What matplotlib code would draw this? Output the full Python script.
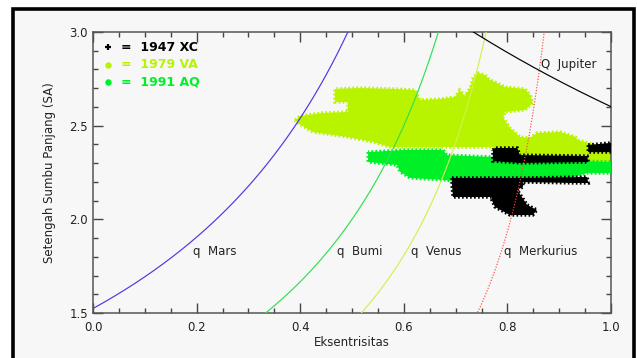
import numpy as np
import matplotlib
matplotlib.use("Agg")
import matplotlib.pyplot as plt
from matplotlib.patches import Rectangle

plt.rcParams.update({
    "font.family": "DejaVu Sans",
    "font.size": 8.5,
})

# perihelion (q) / aphelion (Q) distances of the planets [SA]
q_planets = {"Mars": 1.524, "Bumi": 1.0, "Venus": 0.723, "Merkurius": 0.387}
Q_jupiter = 5.203

# outline of the clone clouds (eksentrisitas, setengah sumbu panjang)
va_e = [0.390, 0.400, 0.444, 0.492, 0.492, 0.467, 0.467, 0.515, 0.583, 0.622,
        0.631, 0.670, 0.699, 0.708, 0.718, 0.728, 0.734, 0.743, 0.757, 0.766,
        0.780, 0.795, 0.834, 0.844, 0.849, 0.834, 0.795, 0.792, 0.805, 0.824,
        0.844, 0.857, 0.902, 0.931, 0.936, 0.956, 1.000, 1.000, 0.786, 0.772,
        0.683, 0.573, 0.541, 0.490, 0.425, 0.398]
va_a = [2.530, 2.552, 2.568, 2.573, 2.626, 2.626, 2.696, 2.701, 2.696, 2.690,
        2.637, 2.642, 2.653, 2.690, 2.658, 2.701, 2.754, 2.781, 2.770, 2.744,
        2.728, 2.706, 2.696, 2.664, 2.621, 2.584, 2.573, 2.541, 2.488, 2.440,
        2.434, 2.461, 2.466, 2.440, 2.424, 2.408, 2.359, 2.290, 2.317, 2.386,
        2.386, 2.386, 2.413, 2.440, 2.466, 2.509]

aq_e = [0.531, 0.531, 0.587, 0.593, 0.612, 0.680, 0.708, 0.824, 0.921, 0.954,
        1.000, 1.000, 0.900, 0.772, 0.683, 0.676, 0.600]
aq_a = [2.359, 2.306, 2.290, 2.253, 2.221, 2.210, 2.199, 2.199, 2.221, 2.247,
        2.247, 2.306, 2.315, 2.333, 2.343, 2.370, 2.370]

xc_lo_e = [0.693, 0.830, 0.954, 0.956, 0.927, 0.830, 0.830, 0.819, 0.838, 0.857,
           0.849, 0.805, 0.776, 0.770, 0.770, 0.695, 0.693]
xc_lo_a = [2.221, 2.221, 2.226, 2.194, 2.194, 2.199, 2.173, 2.157, 2.077, 2.050,
           2.023, 2.023, 2.066, 2.103, 2.119, 2.119, 2.183]
xc_up_e = [0.772, 0.776, 0.819, 0.824, 0.954, 0.956, 0.824, 0.772]
xc_up_a = [2.370, 2.381, 2.381, 2.343, 2.338, 2.306, 2.301, 2.311]
xc_tr_e = [0.956, 1.000, 1.000, 0.956]
xc_tr_a = [2.397, 2.408, 2.359, 2.359]

C_VA, C_AQ, C_XC = "#b8f400", "#00f028", "black"
BG = "#f7f7f7"

fig = plt.figure(figsize=(6.37, 3.58), dpi=100)
fig.patch.set_facecolor("white")
fig.patches.append(Rectangle((12.5 / 637, -0.1), 621.5 / 637, 1.1 - 8.5 / 358,
                             transform=fig.transFigure, facecolor=BG,
                             edgecolor="black", lw=2.6, zorder=-10))
ax = fig.add_axes([93 / 637, 45 / 358, 518 / 637, 281 / 358])
ax.set_facecolor(BG)


def cloud(ex, ay, col, z):
    # solid body plus a stippled rim so the edge looks speckled like the clones
    ax.fill(ex, ay, color=col, lw=0, zorder=z)
    ax.fill(ex, ay, facecolor="none", edgecolor=col, lw=2.4,
            ls=(0, (0.5, 0.7)), zorder=z)


cloud(va_e, va_a, C_VA, 2)
cloud(aq_e, aq_a, C_AQ, 3)
for ex, ay in ((xc_lo_e, xc_lo_a), (xc_up_e, xc_up_a), (xc_tr_e, xc_tr_a)):
    cloud(ex, ay, C_XC, 4)

# q and Q curves
e = np.linspace(0, 0.999, 800)
styles = {"Mars": ("#5434e4", "-"), "Bumi": ("#30e050", "-"),
          "Venus": ("#d2f050", "-"), "Merkurius": ("#ff4a3a", (0, (1, 1.4)))}
for name, q in q_planets.items():
    col, ls = styles[name]
    ax.plot(e, q / (1 - e), color=col, ls=ls, lw=0.85, zorder=5)
ax.plot(e, Q_jupiter / (1 + e), color="black", lw=0.85, zorder=5)

lab_kw = dict(fontsize=8.5, color="#222222", va="center", zorder=6)
ax.text(0.193, 1.83, "q  Mars", **lab_kw)
ax.text(0.471, 1.83, "q  Bumi", **lab_kw)
ax.text(0.614, 1.83, "q  Venus", **lab_kw)
ax.text(0.793, 1.83, "q  Merkurius", **lab_kw)
ax.text(0.865, 2.824, "Q  Jupiter", **lab_kw)

# legend
leg = [("+", "1947 XC", C_XC, 2.918), ("o", "1979 VA", C_VA, 2.826),
       ("o", "1991 AQ", C_AQ, 2.733)]
for mk, name, col, yy in leg:
    ax.plot([0.029], [yy], marker=mk, ms=4.5 if mk == "+" else 3, mew=1.6,
            color=col, zorder=7)
    ax.text(0.054, yy, "=  " + name, color=col, fontsize=9, fontweight="bold",
            va="center", zorder=7)

ax.set_xlim(0, 1)
ax.set_ylim(1.5, 3.0)
ax.set_xticks(np.arange(0, 1.01, 0.2))
ax.set_xticks(np.arange(0, 1.001, 0.05), minor=True)
ax.set_yticks([1.5, 2.0, 2.5, 3.0])
ax.set_yticks(np.arange(1.5, 3.001, 0.1), minor=True)
ax.xaxis.set_major_formatter(matplotlib.ticker.FormatStrFormatter("%.1f"))
ax.yaxis.set_major_formatter(matplotlib.ticker.FormatStrFormatter("%.1f"))
ax.tick_params(which="both", direction="in", top=True, right=True,
               color="#444444", labelcolor="#222222", labelsize=8.5, width=1)
ax.tick_params(which="major", length=7)
ax.tick_params(which="minor", length=3.6)
ax.tick_params(axis="x", pad=6)
ax.tick_params(axis="y", pad=3.5)
for sp in ax.spines.values():
    sp.set_color("#555555")
    sp.set_linewidth(1.1)
ax.set_xlabel("Eksentrisitas", fontsize=8.5, color="#222222", labelpad=1)
ax.set_ylabel("Setengah Sumbu Panjang (SA)", fontsize=8.5, color="#222222",
              labelpad=10)

fig.savefig("out.png", dpi=100, facecolor=fig.get_facecolor())
